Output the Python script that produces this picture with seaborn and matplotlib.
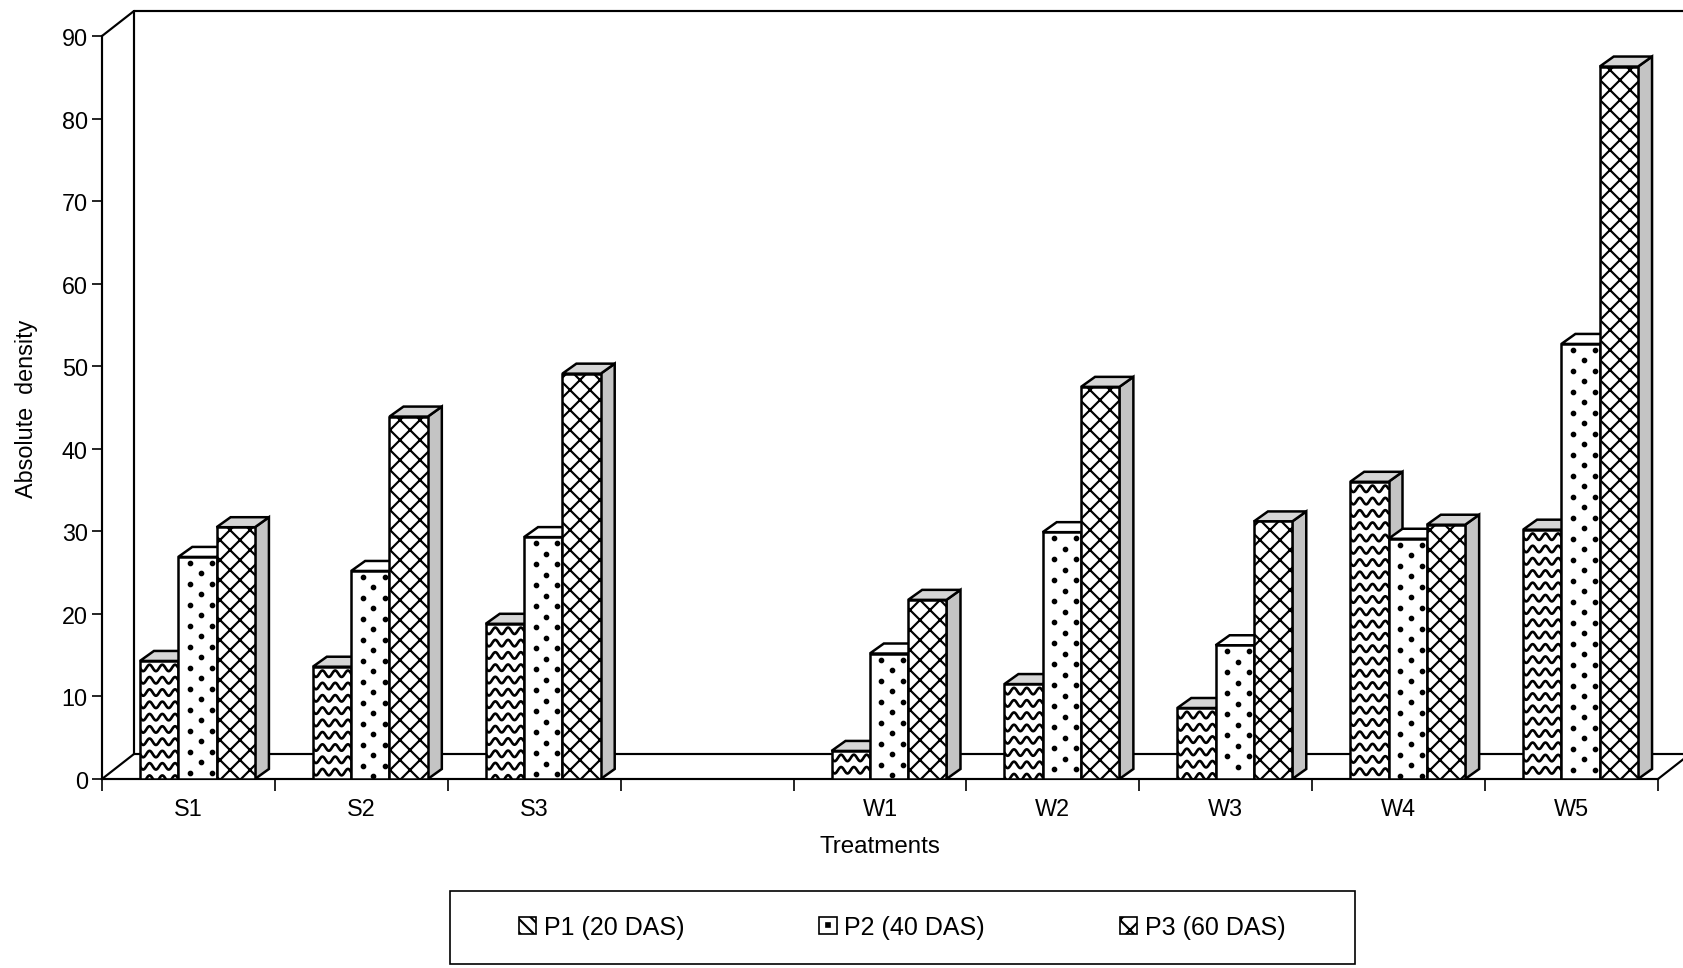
import numpy as np
import pandas as pd
import matplotlib
matplotlib.use("Agg")
import matplotlib.pyplot as plt
from matplotlib.patches import Polygon, Patch, Rectangle
from matplotlib.lines import Line2D
from matplotlib.legend_handler import HandlerTuple
import seaborn as sns

# Absolute weed density per treatment at three sampling stages
treatments = ["S1", "S2", "S3", "W1", "W2", "W3", "W4", "W5"]
slots = ["S1", "S2", "S3", "", "W1", "W2", "W3", "W4", "W5"]
stages = ["P1 (20 DAS)", "P2 (40 DAS)", "P3 (60 DAS)"]
p1_20das = [14.3, 13.6, 18.8, 3.4, 11.5, 8.6, 36.0, 30.2]
p2_40das = [26.9, 25.2, 29.3, 15.2, 29.9, 16.2, 29.1, 52.7]
p3_60das = [30.5, 43.9, 49.1, 21.7, 47.5, 31.2, 30.8, 86.3]
y_ticks = list(range(0, 91, 10))

df = pd.DataFrame({
    "Treatment": treatments * 3,
    "Stage": [s for s in stages for _ in treatments],
    "Density": p1_20das + p2_40das + p3_60das,
})

sns.set_theme(style="white")
plt.rcParams["font.family"] = ["Liberation Sans", "DejaVu Sans"]
plt.rcParams["hatch.linewidth"] = 1.3
plt.rcParams["hatch.color"] = "black"
plt.rcParams["axes.edgecolor"] = "black"
plt.rcParams["text.color"] = "black"
plt.rcParams["xtick.color"] = "black"
plt.rcParams["ytick.color"] = "black"
plt.rcParams["axes.labelcolor"] = "black"

DPI = 120
W, H = 1683, 969
fig = plt.figure(figsize=(W / DPI, H / DPI), dpi=DPI)
fig.patch.set_facecolor("white")
ax = fig.add_axes([102 / W, 1 - 780 / H, (1658 - 102) / W, (780 - 37) / H])
ax.set_facecolor("none")

sns.barplot(data=df, x="Treatment", y="Density", hue="Stage",
            order=slots, hue_order=stages, palette=["white"] * 3,
            saturation=1, width=0.665, edgecolor="black", linewidth=1.5,
            errorbar=None, legend=False, ax=ax)

ax.set_xlim(-0.5, 8.5)
ax.set_ylim(0, 90)

# pixel scale of the data axes
x_px = ax.transData.transform((1, 0))[0] - ax.transData.transform((0, 0))[0]
y_px = ax.transData.transform((0, 1))[1] - ax.transData.transform((0, 0))[1]
shift = 9 / x_px
depth_x = 14 / x_px
depth_y = 10 / y_px

bars = []
for k, cont in enumerate(ax.containers):
    for p in cont:
        h = p.get_height()
        if np.isfinite(h) and h > 0:
            p.set_x(p.get_x() + shift)
            bars.append((p.get_x(), k, p))
bars.sort(key=lambda t: t[0])

top_colors = ["#d6d6d6", "white", "#d6d6d6"]
for rank, (x0, k, p) in enumerate(bars):
    w, h = p.get_width(), p.get_height()
    z = 3 + 3 * rank
    side = Polygon([(x0 + w, 0), (x0 + w + depth_x, depth_y),
                    (x0 + w + depth_x, h + depth_y), (x0 + w, h)],
                   closed=True, facecolor="#c4c4c4", edgecolor="black",
                   lw=1.5, zorder=z)
    top = Polygon([(x0, h), (x0 + depth_x, h + depth_y),
                   (x0 + w + depth_x, h + depth_y), (x0 + w, h)],
                  closed=True, facecolor=top_colors[k], edgecolor="black",
                  lw=1.5, zorder=z)
    ax.add_patch(side)
    ax.add_patch(top)
    p.set_zorder(z + 1)

    if k == 0:
        # wavy texture
        xs = np.linspace(x0, x0 + w, 90)
        period = w * x_px / 3
        amp = 3.2 / y_px
        for r in np.arange(h * y_px - 7, -2, -12.3):
            ys = r / y_px + amp * np.sin(2 * np.pi * (xs - x0) * x_px / period + np.pi)
            ln, = ax.plot(xs, ys, color="black", lw=1.6, zorder=z + 1.5)
            ln.set_clip_path(p)
    elif k == 1:
        # dotted texture
        dx, dy = [], []
        for i, r in enumerate(np.arange(h * y_px - 6, 2, -10.5)):
            fr = [0.3, 0.87] if i % 2 == 0 else [0.58]
            for f in fr:
                dx.append(x0 + f * w)
                dy.append(r / y_px)
        ln, = ax.plot(dx, dy, "o", ms=2.4, color="black", zorder=z + 1.5)
        ln.set_clip_path(p)
    else:
        p.set_hatch("xx")

ax.set_xlim(-0.5, 8.5)
ax.set_ylim(0, 90)

# back wall and floor outline
T = ax.transAxes
dxw, dyw = 32 / 1556, 25 / 743
segs = [[(0, 1), (dxw, 1 + dyw)], [(dxw, 1 + dyw), (1.1, 1 + dyw)],
        [(dxw, 1 + dyw), (dxw, dyw)], [(0, 0), (dxw, dyw)],
        [(dxw, dyw), (1.1, dyw)], [(1, 0), (1 + dxw, dyw)]]
for s in segs:
    (xa, ya), (xb, yb) = s
    ax.add_line(Line2D([xa, xb], [ya, yb], transform=T, color="black",
                       lw=1.3, clip_on=False, zorder=0.5))

for side in ["top", "right"]:
    ax.spines[side].set_visible(False)
for side in ["left", "bottom"]:
    ax.spines[side].set_linewidth(1.3)
    ax.spines[side].set_color("black")

ax.set_xticks(range(len(slots)))
ax.set_xticklabels(slots)
ax.set_xticks(np.arange(-0.5, len(slots), 1), minor=True)
ax.tick_params(axis="x", which="major", length=0, pad=11, labelsize=14)
ax.tick_params(axis="x", which="minor", length=7, width=1, direction="out", bottom=True)
ax.set_yticks(y_ticks)
ax.tick_params(axis="y", which="major", length=6, width=1, direction="out",
               left=True, pad=2.5, labelsize=14)

ax.set_xlabel("Treatments", fontsize=14.5)
ax.xaxis.set_label_coords(0.5, -0.076)
ax.set_ylabel("Absolute  density", fontsize=14)
ax.yaxis.set_label_coords(-0.041, 0.5)

handles = [Patch(facecolor="white", edgecolor="black", hatch="\\\\\\", lw=1),
           (Patch(facecolor="white", edgecolor="black", lw=1),
            Line2D([], [], marker="s", ms=2.5, color="black", ls="")),
           Patch(facecolor="white", edgecolor="black", hatch="xx", lw=1)]
fig.legend(handles, stages, loc="center", bbox_to_anchor=(902 / W, 1 - 928 / H),
           ncol=3, frameon=False, fontsize=15, handlelength=0.7, handleheight=0.7,
           handletextpad=0.3, columnspacing=5.4,
           handler_map={tuple: HandlerTuple(ndivide=1, pad=0)})
fig.patches.append(Rectangle((450 / W, 1 - 965 / H), 905 / W, 73 / H,
                             transform=fig.transFigure, fill=False,
                             edgecolor="black", lw=1))

fig.savefig("out.png", dpi=DPI, facecolor="white")
